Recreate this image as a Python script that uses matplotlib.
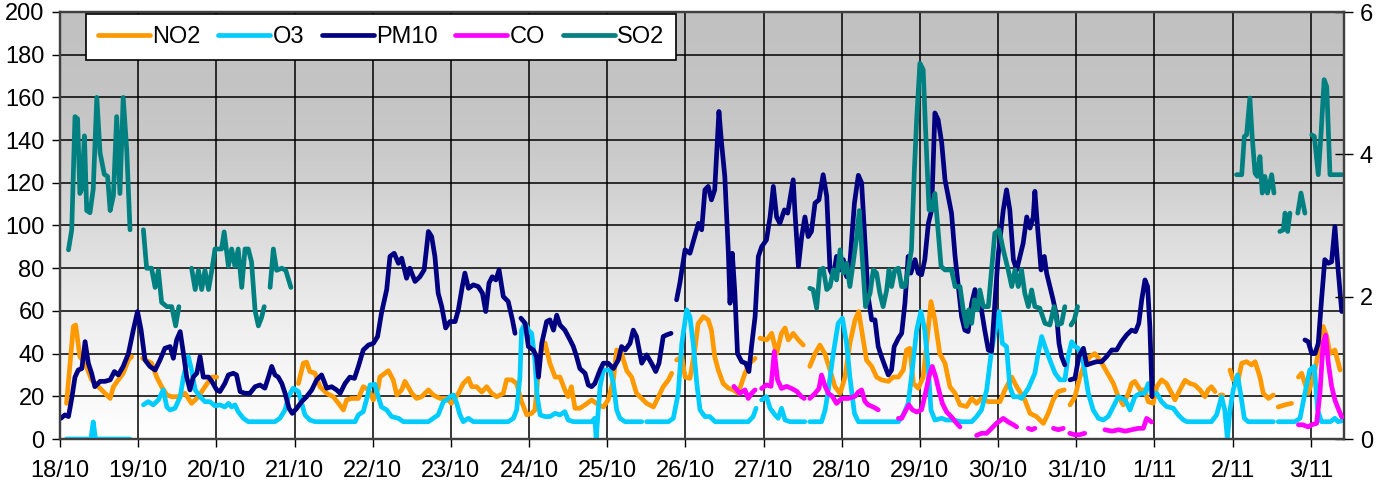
import matplotlib.pyplot as plt
import numpy as np

plt.rcParams['font.family'] = ['Liberation Sans', 'DejaVu Sans']

# x axis: hours since 18/10 00:00, one label per day
day_labels = ['18/10', '19/10', '20/10', '21/10', '22/10', '23/10', '24/10', '25/10', '26/10',
              '27/10', '28/10', '29/10', '30/10', '31/10', '1/11', '2/11', '3/11']

# None = missing data (gap in the line)
no2_h = [2.0, 4.1, 4.8, 6.1, 7.7, 9.7, 11.8, 13.8, 15.4, 16.4, 17.9, 19.4, 21, 22, 23.5,
         25.3, 28.1, 29.7, 31.2, 32.8, 34.3, 36.3, 38.4, 40.4, 42.5, 44.5, 46.6, 48.1, 60,
         73.2, 74.7, 75.7, 76.7, 78.3, 79.8, 81.9, 83.9, 85.5, 87, 88, 89.5, 91.6, 93.1, 94.7,
         96.2, 97.7, 98.2, 100.8, 102.3, 103.4, 104.9, 105.9, 108, 109.5, 111, 113.1, 114.6,
         116.7, 118.7, 120.2, 122.3, 123.8, 125.4, 126.4, 127.9, 129.5, 131, 132.5, 134.1,
         136.1, 137.1, 138.7, 140.2, 141.7, 143.3, 144.8, 145.8, 147.4, 148.9, 150.4, 152,
         153.5, 155, 156, 157, 158.1, 159.6, 161.2, 163.2, 165.3, 166.8, 168.3, 169.9, 170.9,
         172.4, 174, 175.5, 177, 178.6, 180.1, 182.2, 183.7, 185.2, 186.8, 187.8, 188.5,
         189.3, 190.9, 191.9, 193.4, 194.9, 195.9, 197.5, 199, 200, 201, 202.1, 203.6, 205.2,
         206.7, 208.2, 210.3, 211.8, 213.4, 214.2, 214.9, 217, 218.5, 220, 221.5, 222.6,
         223.6, 225.1, 226.7, 228.2, 229.2, 230.2, 231.8, 233.3, 234.8, 236.4, 237.9, 239.5,
         241, 242.5, 244.1, 245.2, 246.6, 247.6, 249.2, 250.7, 252.2, 254.3, 255.8, 257.4,
         258.9, 259.9, 260.9, 262, 263.5, 265, 266.1, 267.4, 268.6, 270.1, 271.7, 273.2,
         274.8, 276.3, 278.3, 279.9, 281.4, 282.9, 285, 288.6, 290.1, 292.2, 293.7, 295.2,
         296.2, 297.8, 299.8, 301.9, 303.4, 304.9, 306.5, 308.3, 309.2, 310.1, 311.6, 313.1,
         314.7, 316.2, 317.7, 319.3, 320.8, 322.3, 323.4, 324.9, 326.4, 328, 329, 330, 331.6,
         333, 334.1, 335.6, 336.7, 338.2, 339.7, 341.3, 342.3, 343.8, 345.4, 346.9, 348.4,
         350, 351.5, 352.5, 353.5, 354.6, 355.5, 356.2, 357, 358, 359.2, 360.2, 361.7, 362.8,
         364.3, 365.8, 366.9, 368.4, 369.4, 371, 372.5, 373.2, 374, 376.1, 378.1, 379, 380.2,
         381.2, 382.2, 383.2, 384.8, 386.3, 387.8, 388.9, 389.9, 391.4, 393]
no2_v = [16.7, 52.7, 53.4, 38.6, 35.5, 27.7, 24.5, 21.4, 19, 24.5, 27.7, 30.8, 37, 38.6, None,
         37.8, 35.5, 29, 24.5, 20.6, 19.8, 19.8, 21.4, 16.7, 19.8, 24.5, 29, 29, None,
         26, 35.5, 36, 31.6, 30.8, 24.5, 21.4, 19.8, 16.7, 13.6, 18.3, 19, 19, 24.5, 23,
         18.3, 24, 29, 32, 27.7, 20.6, 23, 27, 21.4, 19, 19.8, 23, 20.6,
         19, 19, 16.7, 21.4, 26, 28.4, 24.5, 24.5, 22, 24.5, 21.4, 19.8,
         21.4, 27.7, 27.7, 26, 17.5, 11.3, 12, 13.6, 40, 45, 35.5, 29,
         29, 23, 19.8, 24.5, 14.4, 14.4, 16, 18.3, 16, 15, 18.3, 27.7, 41.7,
         40, 32, 29, 21.4, 19, 16.7, 15, 19.8, 24.5, 27.7, 30.8, None,
         37, 38.6, 29, 28.4, 41.7, 54, 57.3, 55.8, 51, 38.6, 32.3, 26, 23.8,
         23, 21.4, 30.8, 35.5, 37.8, None, 47.2, 46.4, 49.5, 40, 49.5, 52,
         46.4, 49.5, 46.4, 44, None, 34, 40, 44, 40, 32.3, 24.5, 21.4,
         29, 44.8, 55.8, 59.7, 46.4, 37, 34, 29, 27.7, 27, 29, 29,
         32.3, 41.7, 42.5, 26, 23.8, 29, 44.8, 64.4, 55.8, 40, 35.5, 24.5,
         21.4, 16, 15.2, 19, 16.7, 19, 17.5, 17.5, 23, 29, 24.5, 21,
         18.3, 12, 10.5, 7.3, 12, 18.3, 22.2, 23, None, 16, 19.8, 29,
         35.5, 38.6, 40, 37, 33, 29, 26, 19.8, 16, 21.4, 26, 27, 23,
         23, 17.5, 16.7, 24.5, 27.7, 26, 21.4, 18.3, 23, 27.5, 26, 25.3,
         23, 19.8, 23, 24.5, 22.2, None, 20.6, 20.6, None, 32.3, 27.7, 27.7, 35.5,
         36.2, 34.7, 36.2, 29, 21.4, 19, 20.6, None, 15, 16, 16.7, None, 29,
         30.8, 26, 21.4, 29, 40, 52.7, 48, 40, 41.7, 32.3]

o3_h = [2.0, 9.5, 10.2, 10.9, 21.5, 23, 25.6, 27.1, 28.6, 30.2, 31.7, 32.8, 33.8, 35.3, 36.9,
        37.9, 39.4, 40.4, 41.5, 43, 44.5, 46, 47.6, 49.1, 50.6, 51.7, 52.7, 53.7, 54.7, 56.3,
        57.8, 66, 67.5, 69.1, 70.1, 71.6, 73.2, 74.2, 75.2, 76.7, 78.3, 90.6, 91.6, 93.1,
        94.2, 95.2, 96.7, 97.7, 98.7, 100.3, 101.8, 103.9, 105.4, 113.1, 114.6, 116.1, 117.7,
        118.7, 119.7, 120.8, 121.8, 122.8, 123.8, 125.4, 126.9, 137.6, 139.2, 140.2, 141.2,
        141.7, 142.8, 143.8, 144.8, 145.8, 146.5, 147.4, 148.9, 150.4, 152, 153.5, 155, 156,
        157.6, 163.2, 164.2, 164.6, 165.8, 166.8, 168.9, 169.9, 170.9, 171.9, 173.5, 178.6,
        179.3, 180.1, 186.8, 188.3, 189.8, 190.9, 192.4, 193.4, 194.4, 195.5, 196.5, 198,
        199.5, 201.1, 211.3, 212.8, 213.7, 214.5, 215.4, 216.9, 218, 219.5, 220.5, 221.5,
        222.6, 224.1, 228.7, 229.5, 230.2, 233.8, 234.9, 235.9, 237.4, 238.9, 240.2, 241.5,
        242.5, 243.9, 245.1, 257.4, 258.9, 260.4, 261.4, 263, 264.3, 265.5, 266.6, 267.4,
        268.6, 270.7, 272, 274, 276.8, 279.9, 281.4, 282.9, 284.5, 286, 287.2, 288.3, 289.3,
        290.6, 291.6, 292.7, 294.2, 295.2, 297.3, 299.3, 300.3, 301.4, 302.4, 303.9, 305.5,
        307, 308.5, 309.5, 310.6, 311.6, 312.6, 314.2, 315.7, 317.2, 318.8, 320.3, 321.8,
        323.4, 324.9, 327, 328.5, 330, 331.6, 333, 334.1, 335.1, 336.7, 338.2, 339.7, 341.8,
        343.3, 344.9, 346, 353.5, 355.1, 356.6, 357.6, 358.4, 359.2, 360.2, 361.5, 362.6,
        363.6, 364.8, 372.5, 373.2, 374, 379.1, 380.7, 382.2, 383.7, 385.1, 386.1, 387.3,
        390, 391.4, 392.4, 393.5]
o3_v = [0, 0, 8, 0, 0, None, 16, 17.5, 16, 18.3, 23, 15, 13.6, 14.4, 19.8,
        29, 38.6, 32.3, 23, 19.8, 17.5, 17.5, 15.5, 16, 15, 16.7, 15, 16, 12.8, 9.7,
        8.1, 8.1, 9.7, 13.6, 19.8, 23.8, 22.2, 16.7, 11.3, 8.9, 8.1, 8.1, 11.3, 12.8,
        19, 25.3, 25.6, 19.8, 15, 13.6, 10.5, 9.7, 8.1, 8.1, 9.7, 11.3, 17.5,
        18.3, 19.8, 20.6, 16.7, 11.3, 8.1, 9.7, 8.1, 8.1, 9.7, 13.6, 29,
        51, 54.2, 51, 49.5, 37, 20, 11.3, 10.5, 10.5, 12, 11.3, 12.8, 8.9,
        8.1, 8.1, 9.7, 0, 24.5, 32.3, 32.3, 26, 13.6, 9.7, 8.1, 8.1,
        None, 8.1, 8.1, 9.7, 21.4, 44.8, 60.5, 57.3, 44.8, 26, 13.6, 10.5,
        10.5, 8.1, 8.1, 10.5, 14.4, None, 18.3, 19.8, 14.4, 11.3, 9.7, 14.4,
        8.9, 8.1, 8.1, None, 8.1, 8.1, 13.6, 23, 40, 54.2, 56.6, 44.8,
        29, 12, 8.1, 8.1, 11.3, 16.7, 29, 51, 59.7, 51, 32.3, 13.6,
        8.9, 9.7, 8.9, 8.9, 8.1, 8.1, 10.5, 13.6, 23, 41.7, 51, 59.7, 44.8,
        43.3, 24.5, 19.8, 19.8, 19, 23.8, 30.8, 40, 48, 43.3, 37, 30.8,
        27.7, 27.7, 38.6, 45.6, 43.3, 42.5, 35.5, 21.4, 13.6, 9.7, 8.9, 10.5,
        15.2, 19.8, 18.3, 13.6, 19.8, 21.4, 21.4, 26, 21.4, 21.4, 17.5, 15.2, 14.4,
        11.3, 8.9, 8.1, 8.1, 11.3, 19.8, 13.6, 0, 13.6, 23, 30, 19.8,
        9.7, 8.1, 8.1, None, 8.1, 8.1, 9.7, 21.4, 32.3, 34, 13.6, 8.1,
        8.1, 9.7, 8.1, 8.5]

pm10_h = [0.3, 1.5, 2.6, 3.6, 4.6, 5.6, 6.7, 7.7, 8.7, 9.7, 10.7, 12.3, 13.8, 15.4, 16.7, 17.9,
          19.4, 21, 22.5, 23.8, 24.9, 26.1, 27.6, 29.2, 30.7, 32.2, 33.8, 34.8, 35.8, 36.9,
          37.9, 38.9, 39.9, 40.9, 42, 43, 44, 45.6, 46.6, 48.1, 49.1, 50.6, 51.7, 53.2, 54.2,
          55.3, 56.8, 58.3, 59.9, 61.4, 62.9, 64, 65, 66, 67, 68.1, 69.1, 70.3, 71.3, 72.7,
          74.2, 75.7, 77.3, 78.8, 80.3, 81.9, 83.4, 84.9, 86, 87.5, 89, 90.4, 91.6, 93.1,
          94.7, 96.2, 97.5, 98.7, 100.3, 101.3, 102.6, 103.9, 104.9, 106.4, 107.4, 109,
          110.5, 111.8, 113.1, 114.1, 115.1, 116.1, 117.2, 118.4, 119.7, 121.3, 122.3, 123.5,
          124.3, 125.4, 126.9, 128.4, 129.7, 130.7, 131.7, 132.7, 133.8, 134.8, 136.1, 137.6,
          138.9, 139.7, 140.5, 141.5, 142.8, 143.8, 145.3, 146.3, 146.9, 147.9, 149.4, 150.4,
          151.5, 152.5, 153.5, 155, 156.6, 157.6, 158.6, 159.6, 161.2, 162.2, 163.2, 164.2,
          165.8, 166.8, 168.3, 169.9, 171.4, 172.4, 173.5, 175, 176, 177, 178.6, 180.1, 181.6,
          182.9, 183.9, 185.2, 186.3, 187.6, 188.4, 189.3, 190.3, 191.9, 193.4, 194.9, 196,
          197, 198, 199, 200, 201, 202.3, 203.1, 204.1, 205.2, 205.7, 206.4, 207.2, 208,
          209.3, 210.5, 211.5, 212.3, 213.4, 214.4, 215.4, 216.9, 218, 219, 220, 221, 222.4,
          223.4, 225.1, 225.6, 226.7, 227.7, 228.7, 229.7, 230.7, 231.8, 233, 234.3, 235.4,
          236.4, 237.4, 238.4, 239.5, 240.5, 241.5, 242.5, 243.9, 245.1, 246.1, 247.1, 248.1,
          249.2, 250.2, 251.2, 252.2, 253.3, 254.3, 255.3, 256.1, 257.4, 258.4, 259.4, 260.4,
          261.2, 262.5, 263.5, 264.5, 265.5, 266.6, 267.6, 268.6, 269.6, 270.7, 271.7, 272.7,
          273.7, 274.8, 275.8, 276.8, 277.8, 278.8, 279.9, 280.9, 281.9, 282.9, 283.9, 285,
          286, 287, 288, 289.6, 290.6, 291.6, 292.7, 293.7, 294.7, 295.7, 296.8, 297.8, 298.8,
          299.3, 300.1, 301.2, 302.2, 302.9, 303.9, 304.9, 306, 306.7, 307.5, 308.5, 309.3,
          310.1, 311.6, 312.8, 314.2, 315.2, 316.7, 318.2, 319.8, 321.3, 322.9, 324.4, 325.9,
          327.5, 329, 330.2, 331.2, 332.1, 333.1, 333.9, 334.6, 335.3, 336, 382.2, 383.2,
          384.3, 385.3, 386.3, 387.3, 388.3, 389.4, 390.4, 391.4, 392.4, 393.5]
pm10_v = [9.7, 11.3, 10.5, 19, 29, 32.3, 33, 45.6, 35.5, 30.8, 24.5, 27, 27, 27.7, 31.6, 30,
          34, 40, 51, 59.7, 51, 37, 34, 32.3, 37, 42.5, 43.3, 37.8, 46.4, 50.3,
          40, 29, 23, 29, 30.8, 38.6, 29, 29, 27, 23, 22.2, 26, 30, 30.8, 30,
          22.2, 21.4, 21.4, 24.5, 25.3, 23.8, 29, 34, 30, 29, 26, 21.4, 14.4, 12, 14.4,
          17.5, 19.8, 23, 27.7, 30, 23.8, 24.5, 23, 21.4, 26, 29, 28.4, 34, 41.7,
          44, 44.8, 48, 59, 70, 85.5, 87, 82.3, 84.7, 75.3, 80, 73.8,
          76, 79.2, 97.2, 94.8, 85.5, 68.3, 62, 52, 55, 55, 60.5, 71.4,
          77.7, 70.6, 72.2, 71.4, 68.3, 59.7, 73, 76, 74.5, 79.2, 66.7, 64.4,
          55.8, 49.5, None, 56.6, 54.2, 43.3, 41.7, 38.6, 29, 44.8, 55, 55.8,
          51, 58, 53.4, 51, 46.4, 43.3, 38.6, 33, 30.8, 25.3, 24.5, 26,
          32.3, 35.5, 35.5, 33, 37, 43.3, 41.7, 44.8, 51, 48, 35.5, 39.4, 35.5,
          31.6, 35.5, 48, 48.8, 49.5, None, 65.2, 73, 88.6, 87, 95, 101,
          98, 116.7, 118.3, 112, 116.7, 153.4, 138.6, 123, 87, 63.6, 87, 68.3, 40,
          36.2, 35.5, 31.6, 43.3, 57.3, 85.5, 90, 93.3, 104, 118.3, 104, 101, 107.3,
          105.8, 121.4, 107.3, 80.8, 94.8, 104, 94.8, 97.2, 110.5, 112, 123.8, 113.6,
          79.2, 76, 85.5, 79.2, 84, 76, 82.3, 110.5, 123.5, 120, 93.3, 66.7,
          55.8, 55.8, 43.3, 38.6, 34, 30, 32.3, 43.3, 47.2, 49.5, 63.6, 85.5,
          77.7, 84, 77.7, 76.9, 84, 101, 107.3, 152.7, 149.5, 138.6, 121.4, 113.6,
          105.8, 85.5, 71.4, 57.3, 51, 50.3, 63.6, 70, 62, 60.5, 51, 41.7,
          41, 63.6, 85.5, 107.3, 116.7, 107.3, 84, 79.2, 85.5, 91.7, 104, 98.8, 104,
          116, 99.5, 79.2, 85.5, 77.7, 71.4, 65.2, 57.3, 44.8, 38.6, 34.7, None,
          27.7, 28.4, 38.6, 42.5, 34.7, 35.5, 36.2, 36.2, 38.6, 41.7, 41.7, 45.6,
          48.8, 51, 50.3, 54.2, 65.2, 74.5, 71.4, 52.7, 19.8, None, 46.4, 45.6,
          40, 40, 44.8, 65.2, 84, 82.3, 83, 99.5, 79.2, 59.7]

# CO on the secondary (right) axis
co_h = [206.9, 208.7, 210.3, 211.3, 212.3, 213.4, 214.4, 215.4, 216.9, 218.3, 219.3, 220.3,
        221.5, 223.1, 224.6, 226.2, 227.5, 228.5, 229.3, 230.2, 231.8, 233, 233.8, 234.9,
        235.9, 237.1, 238.4, 240, 242, 244.1, 245.1, 246.1, 247.1, 248.1, 249.7, 251.2, 254,
        257.4, 258.4, 259.4, 260.6, 261.7, 263, 264.5, 265.7, 266.8, 267.8, 268.8, 269.8,
        270.9, 272.2, 273.7, 275.3, 276.3, 279, 281.4, 282.9, 284.5, 286, 287.5, 289.6, 291.1,
        292.7, 293.7, 295.5, 297.3, 298.3, 299.3, 302, 305, 306.5, 308, 309, 310, 311.5, 313,
        314.6, 317, 320.8, 323, 325, 327, 329, 331, 332.6, 333.6, 335.1, 350, 380.2, 381.5,
        383.2, 384.3, 385.8, 386.8, 387.8, 388.6, 389.4, 390.4, 391.4, 392.4, 393.5]
co_v = [0.74, 0.64, 0.69, 0.57, 0.64, 0.69, None, 0.71, 0.76, 0.74, 1.23, 0.83,
        0.71, 0.74, 0.71, 0.67, 0.6, 0.57, None, 0.57, 0.64, 0.71, 0.9, 0.74,
        0.64, 0.6, 0.5, 0.57, 0.57, 0.6, 0.66, 0.69, 0.53, 0.48, 0.45, 0.41, None,
        0.29, 0.29, 0.38, 0.48, 0.41, 0.38, 0.41, 0.64, 0.88, 1.02, 0.88, 0.69,
        0.5, 0.38, 0.31, 0.22, 0.17, None, 0.05, 0.08, 0.08, 0.15, 0.22, 0.29, 0.24,
        0.2, 0.17, None, 0.15, 0.13, 0.15, None, 0.15, 0.13, 0.15, None, 0.08, 0.06, 0.06,
        0.08, None, 0.13, 0.11, 0.13, 0.11, 0.13, 0.15, 0.15, 0.29, 0.24, None, 0.2, 0.2,
        0.17, 0.2, 0.22, 0.64, 1.35, 1.46, 1.06, 0.74, 0.55, 0.43, 0.31]

so2_h = [2.6, 3.6, 4.6, 5.4, 6.1, 6.7, 7.5, 8.2, 9.2, 10.2, 11.3, 12.3, 13.6, 14.6, 15.4, 16.4,
         17.4, 18.4, 19.4, 20.5, 21.5, 23, 25.6, 26.6, 28.1, 29.2, 30.2, 31.2, 32.8, 34.3,
         35.5, 36.5, 38, 40.4, 41.5, 42.5, 43.5, 44.5, 45.6, 46.6, 47.6, 49.6, 50.4, 51.7,
         52.7, 53.7, 54.7, 55.8, 56.8, 57.8, 58.8, 59.9, 60.9, 61.9, 62.7, 63.5, 64.5, 65.5,
         66.5, 68.1, 69.3, 70.9, 150, 230.2, 231.2, 232.3, 233.3, 234.3, 235.4, 236.4, 237.4,
         238.4, 239.5, 240.5, 241.5, 242.5, 243.5, 244.6, 245.4, 246.3, 247.3, 248.7, 249.7,
         250.7, 251.7, 252.7, 253.8, 254.5, 255.3, 256.3, 257.4, 258.4, 259.4, 260.4, 261.4,
         262.3, 263, 264, 265, 265.7, 266.8, 267.6, 268.6, 269.4, 270.5, 271.7, 273.7, 274.8,
         276.3, 277.3, 278.3, 279, 279.9, 280.7, 281.7, 282.4, 283.5, 285, 286, 287, 288.3,
         289.6, 291.1, 292.2, 293.2, 294.2, 295.2, 296.2, 297.3, 298.3, 299.3, 300.8, 302.4,
         303.9, 305.2, 306.3, 307.5, 308.5, 309.5, 310.4, 311.4, 312.4, 336, 361.2, 362.8,
         363.6, 364.3, 365.3, 366, 366.9, 367.6, 368.4, 369.1, 369.9, 370.7, 372, 372.7,
         373.5, 374.5, 375.6, 376.1, 376.9, 377.6, 379, 380, 381, 382.2, 383.3, 384.3, 385.1,
         386.3, 387.1, 388.1, 388.9, 389.9, 391.4, 393.5]
so2_v = [88.6, 98, 151, 150, 115, 117, 142, 107, 106, 117, 160, 134, 124, 123, 107, 114,
         151, 115, 160, 135, 98, None, 98, 80, 80, 71, 79, 64, 62, 62,
         53, 62, None, 80, 70, 79, 70, 79, 70, 79, 89, 89, 97, 81,
         89, 81, 89, 71, 89, 89, 83, 60, 53, 57, 62, None, 71, 89,
         79, 80, 79, 71, None, 70.6, 70, 61.3, 79.2, 80, 70, 71.4, 79.2,
         74.5, 88.6, 77.7, 82.3, 71.4, 82.3, 95, 107, 85, 62, 68.3, 79.2,
         77.7, 68.3, 62, 69.8, 79.2, 71.4, 79.2, 80, 71.4, 71.4, 79.2, 88.6,
         126, 149.5, 176, 173, 146.4, 107.3, 107.3, 115, 101, 80.8, 79.2, 79.2, 71.4,
         71.4, 60.5, 52.7, 60.5, 54.2, 65.2, 60.5, 69.8, 62, 62, 79.2, 96.4, 98,
         88.6, 79.2, 71.4, 79.2, 71.4, 79.2, 68.3, 62, 69.8, 62, 61.3, 54.2,
         53.4, 62, 53.4, 54.2, 62, None, 53.4, 55.8, 62, None, 123.8, 123.8,
         141.7, 142.5, 159.7, 141.7, 124.5, 123, 132.3, 115.2, 123, 115.2, 123.8, 115.2,
         None, 97.2, 98, 105.8, 97.2, 105.8, None, 105.8, 115.2, 105.8, None, 142.5, 141.7,
         123.8, 141.7, 168.3, 165, 123.8, 123.8, 123.8]

xmax = 394.2

fig = plt.figure(figsize=(13.87, 4.86), dpi=100)
ax = fig.add_axes([60 / 1387, 1 - 439 / 486, (1344 - 60) / 1387, (439 - 12) / 486])

# grey (top) to white (bottom) background of the plot area
shade_y = np.linspace(200, 0, 400)
shade = np.interp(shade_y, [0, 20, 40, 60, 80, 100, 120, 140, 160, 200],
                  [1.0, 0.975, 0.955, 0.925, 0.89, 0.855, 0.815, 0.785, 0.77, 0.755])
bg = np.repeat(shade[:, None, None], 3, axis=2)
ax.imshow(bg, extent=[0, xmax, 0, 200], aspect='auto', zorder=0, interpolation='bilinear')

lw = 3.4
kw = dict(lw=lw, solid_joinstyle='round', solid_capstyle='round', zorder=3)
l1, = ax.plot(no2_h, np.array(no2_v, dtype=float), color='#FF9900', label='NO2', **kw)
l2, = ax.plot(o3_h, np.array(o3_v, dtype=float), color='#00CCFF', label='O3', **kw)
l3, = ax.plot(pm10_h, np.array(pm10_v, dtype=float), color='#000080', label='PM10', **kw)
l5, = ax.plot(so2_h, np.array(so2_v, dtype=float), color='#008080', label='SO2', **kw)

ax2 = ax.twinx()
l4, = ax2.plot(co_h, np.array(co_v, dtype=float), color='#FF00FF', label='CO', **kw)

ax.set_xlim(0, xmax)
ax.set_ylim(0, 200)
ax2.set_ylim(0, 6)

ax.set_xticks(np.arange(len(day_labels)) * 24)
ax.set_xticklabels(day_labels)
ax.set_yticks(np.arange(0, 201, 20))
ax2.set_yticks([0, 2, 4, 6])

ax.grid(True, color='black', lw=1.1, zorder=1)
ax.set_axisbelow(True)

fs = 17
ax.tick_params(axis='x', labelsize=fs, length=6, width=1, pad=9)
ax.tick_params(axis='y', labelsize=fs, length=6, width=1, pad=5)
ax2.tick_params(axis='y', labelsize=fs, length=13, width=1, direction='inout', pad=5)

for a in (ax, ax2):
    for s in a.spines.values():
        s.set_color('#404040')
        s.set_linewidth(1.6)

leg = ax2.legend(handles=[l1, l2, l3, l4, l5], loc='upper left', ncol=5,
                 bbox_to_anchor=(0.0203, 0.995), fontsize=fs, frameon=True,
                 fancybox=False, edgecolor='black', framealpha=1,
                 handlelength=2.2, handletextpad=0.1, columnspacing=0.75,
                 borderpad=0.5, borderaxespad=0)
leg.get_frame().set_linewidth(1.2)

fig.savefig('out.png', dpi=100)
